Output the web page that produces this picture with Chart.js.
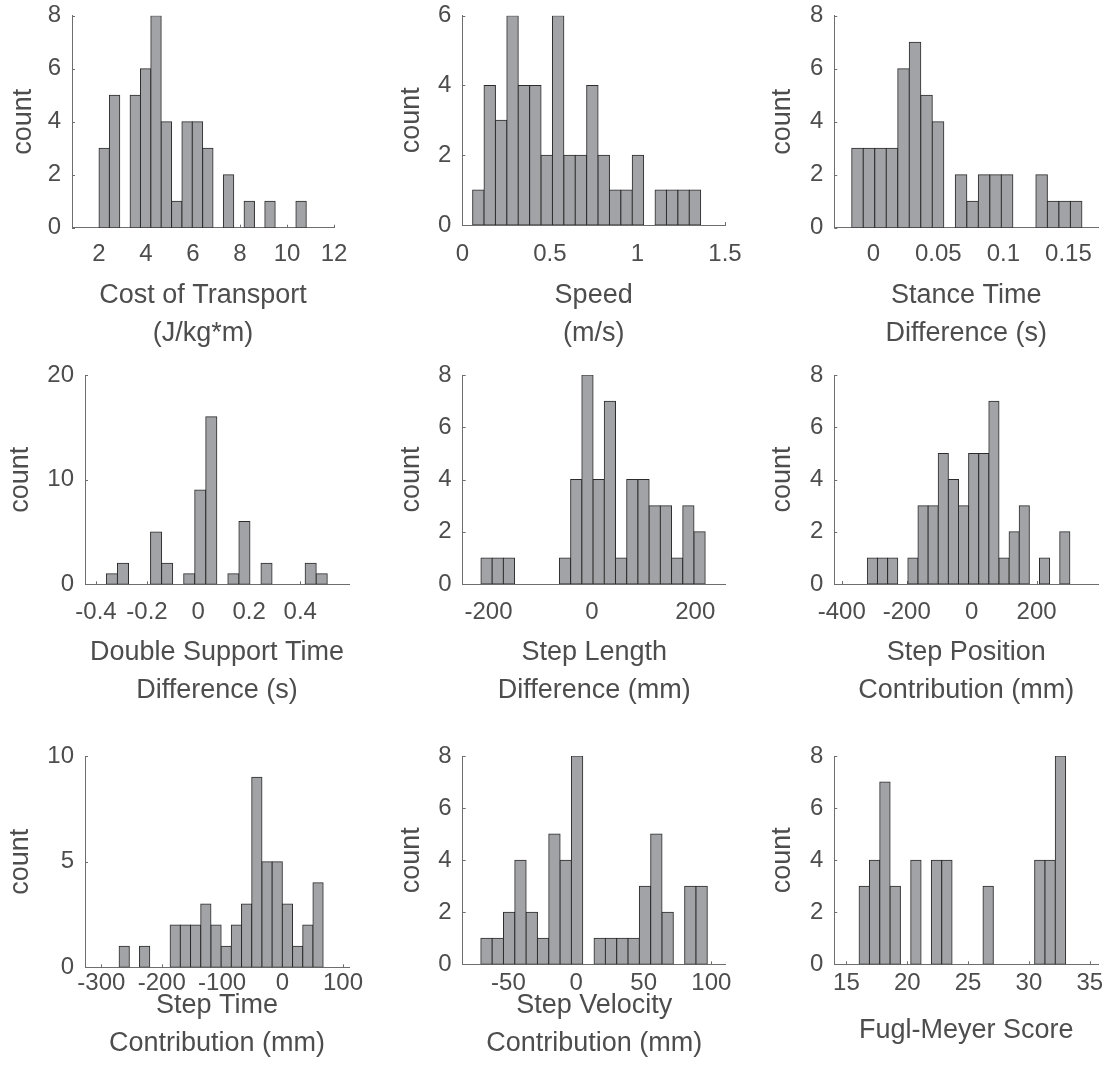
<!DOCTYPE html>
<html lang="en">
<head>
<meta charset="UTF-8">
<title>Gait histograms</title>
<script src="https://cdn.jsdelivr.net/npm/chart.js"></script>
<style>
  body { margin: 0; background: #fff; }
  #fig { position: relative; width: 1113px; height: 1088px; }
  #fig canvas { position: absolute; }
</style>
</head>
<body>
<div id="fig"></div>
<script>
// bin centres and counts (20 bins each, n = 48)
const costBins = [2.2205, 2.6615, 3.1025, 3.5435, 3.9845, 4.4255, 4.8665, 5.3075, 5.7485, 6.1895,
                  6.6305, 7.0715, 7.5125, 7.9535, 8.3945, 8.8355, 9.2765, 9.7175, 10.1585, 10.5995];
const costCounts = [3, 5, 0, 5, 6, 8, 4, 1, 4, 4, 3, 0, 2, 0, 1, 0, 1, 0, 0, 1];

const speedBins = [0.0916, 0.1567, 0.2218, 0.2869, 0.3520, 0.4171, 0.4822, 0.5473, 0.6124, 0.6775,
                   0.7426, 0.8077, 0.8728, 0.9379, 1.0030, 1.0681, 1.1332, 1.1983, 1.2634, 1.3285];
const speedCounts = [1, 4, 3, 6, 4, 4, 2, 6, 2, 2, 4, 2, 1, 1, 2, 0, 1, 1, 1, 1];

const stanceBins = [-0.012175, -0.003325, 0.005525, 0.014375, 0.023225, 0.032075, 0.040925, 0.049775, 0.058625, 0.067475,
                    0.076325, 0.085175, 0.094025, 0.102875, 0.111725, 0.120575, 0.129425, 0.138275, 0.147125, 0.155975];
const stanceCounts = [3, 3, 3, 3, 6, 7, 5, 4, 0, 2, 1, 2, 2, 2, 0, 0, 2, 1, 1, 1];

const dblBins = [-0.337575, -0.294325, -0.251075, -0.207825, -0.164575, -0.121325, -0.078075, -0.034825, 0.008425, 0.051675,
                 0.094925, 0.138175, 0.181425, 0.224675, 0.267925, 0.311175, 0.354425, 0.397675, 0.440925, 0.484175];
const dblCounts = [1, 2, 0, 0, 5, 2, 0, 1, 9, 16, 0, 1, 6, 0, 2, 0, 0, 0, 2, 1];

const lengthBins = [-203.85, -182.15, -160.45, -138.75, -117.05, -95.35, -73.65, -51.95, -30.25, -8.55,
                    13.15, 34.85, 56.55, 78.25, 99.95, 121.65, 143.35, 165.05, 186.75, 208.45];
const lengthCounts = [1, 1, 1, 0, 0, 0, 0, 1, 4, 8, 4, 7, 1, 4, 4, 3, 3, 1, 3, 2];

const positionBins = [-305.61, -274.43, -243.25, -212.07, -180.89, -149.71, -118.53, -87.35, -56.17, -24.99,
                      6.19, 37.37, 68.55, 99.73, 130.91, 162.09, 193.27, 224.45, 255.63, 286.81];
const positionCounts = [1, 1, 1, 0, 1, 3, 3, 5, 4, 3, 5, 5, 7, 1, 2, 3, 0, 1, 0, 2];

const timeBins = [-262.0575, -245.1725, -228.2875, -211.4025, -194.5175, -177.6325, -160.7475, -143.8625, -126.9775, -110.0925,
                  -93.2075, -76.3225, -59.4375, -42.5525, -25.6675, -8.7825, 8.1025, 24.9875, 41.8725, 58.7575];
const timeCounts = [1, 0, 1, 0, 0, 2, 2, 2, 3, 2, 1, 2, 3, 9, 5, 5, 3, 1, 2, 4];

const velocityBins = [-66.215, -57.845, -49.475, -41.105, -32.735, -24.365, -15.995, -7.625, 0.745, 9.115,
                      17.485, 25.855, 34.225, 42.595, 50.965, 59.335, 67.705, 76.075, 84.445, 92.815];
const velocityCounts = [1, 1, 2, 4, 2, 1, 5, 4, 8, 0, 1, 1, 1, 1, 3, 5, 2, 0, 3, 3];

const fmBins = [16.4643, 17.313, 18.1617, 19.0104, 19.8591, 20.7078, 21.5565, 22.4052, 23.2539, 24.1026,
                24.9513, 25.8, 26.6487, 27.4974, 28.3461, 29.1948, 30.0435, 30.8922, 31.7409, 32.5896];
const fmCounts = [3, 4, 7, 3, 0, 4, 0, 4, 4, 0, 0, 0, 3, 0, 0, 0, 0, 4, 4, 8];

// tick labels
const costTicks = [2, 4, 6, 8, 10, 12];
const speedTicks = [0, 0.5, 1, 1.5];
const stanceTicks = [0, 0.05, 0.1, 0.15];
const dblTicks = [-0.4, -0.2, 0, 0.2, 0.4];
const lengthTicks = [-200, 0, 200];
const positionTicks = [-400, -200, 0, 200];
const timeTicks = [-300, -200, -100, 0, 100];
const velocityTicks = [-50, 0, 50, 100];
const fmTicks = [15, 20, 25, 30, 35];
const count6 = [0, 2, 4, 6];
const count8 = [0, 2, 4, 6, 8];
const count10 = [0, 5, 10];
const count20 = [0, 10, 20];

// layout: canvas cell + plot box (page px)
const panels = [
  { left: 0,   top: 0, w: 371, h: 355, plot: { l: 72,    r: 334,    t: 15.7, b: 227.7 },
    bins: costBins, counts: costCounts, xMin: 0.85, xMax: 12, xTicks: costTicks, yMax: 8, yTicks: count8,
    xTitle: ['Cost of Transport', '(J/kg*m)'], tickPad: 12, titlePad: 3, yTitlePad: 7 },
  { left: 371, top: 0, w: 371, h: 355, plot: { l: 462.3, r: 725,    t: 15.7, b: 225 },
    bins: speedBins, counts: speedCounts, xMin: 0, xMax: 1.5, xTicks: speedTicks, yMax: 6, yTicks: count6,
    xTitle: ['Speed', '(m/s)'], tickPad: 14.6, titlePad: 3, yTitlePad: 24 },
  { left: 742, top: 0, w: 371, h: 355, plot: { l: 834.3, r: 1098.3, t: 15.7, b: 227.7 },
    bins: stanceBins, counts: stanceCounts, xMin: -0.03, xMax: 0.173, xTicks: stanceTicks, yMax: 8, yTicks: count8,
    xTitle: ['Stance Time', 'Difference (s)'], tickPad: 12, titlePad: 3, yTitlePad: 24.4 },

  { left: 0,   top: 355, w: 371, h: 360, plot: { l: 85,    r: 349,    t: 375, b: 584.3 },
    bins: dblBins, counts: dblCounts, xMin: -0.443, xMax: 0.591, xTicks: dblTicks, yMax: 20, yTicks: count20,
    xTitle: ['Double Support Time', 'Difference (s)'], tickPad: 14, titlePad: 6, yTitlePad: 4 },
  { left: 371, top: 355, w: 371, h: 360, plot: { l: 462.7, r: 725.7,  t: 375, b: 584 },
    bins: lengthBins, counts: lengthCounts, xMin: -250, xMax: 259, xTicks: lengthTicks, yMax: 8, yTicks: count8,
    xTitle: ['Step Length', 'Difference (mm)'], tickPad: 14, titlePad: 6, yTitlePad: 24 },
  { left: 742, top: 355, w: 371, h: 360, plot: { l: 834.3, r: 1098.3, t: 375, b: 584 },
    bins: positionBins, counts: positionCounts, xMin: -423, xMax: 390, xTicks: positionTicks, yMax: 8, yTicks: count8,
    xTitle: ['Step Position', 'Contribution (mm)'], tickPad: 14, titlePad: 6, yTitlePad: 24.4 },

  { left: 0,   top: 715, w: 371, h: 373, plot: { l: 85,    r: 349,    t: 756, b: 967.3 },
    bins: timeBins, counts: timeCounts, xMin: -327, xMax: 110, xTicks: timeTicks, yMax: 10, yTicks: count10,
    xTitle: ['Step Time', 'Contribution (mm)'], tickPad: 2, titlePad: 26, yTitlePad: 4 },
  { left: 371, top: 715, w: 371, h: 373, plot: { l: 462.7, r: 725.7,  t: 756, b: 964.3 },
    bins: velocityBins, counts: velocityCounts, xMin: -83.8, xMax: 110.6, xTicks: velocityTicks, yMax: 8, yTicks: count8,
    xTitle: ['Step Velocity', 'Contribution (mm)'], tickPad: 5, titlePad: 26, yTitlePad: 24 },
  { left: 742, top: 715, w: 371, h: 373, plot: { l: 834.3, r: 1098.3, t: 756, b: 964.3 },
    bins: fmBins, counts: fmCounts, xMin: 14, xMax: 35.7, xTicks: fmTicks, yMax: 8, yTicks: count8,
    xTitle: 'Fugl-Meyer Score', tickPad: 5, titlePad: 39, yTitlePad: 24.4 }
];

Chart.defaults.font.family = '"Liberation Sans", Arial, sans-serif';
Chart.defaults.color = '#4d4d4d';
const AXIS = '#6e6e6e';
const FACE = '#a2a3a6';
const EDGE = '#2b2b2b';

// matlab style ticks pointing into the axes
const inwardTicks = {
  id: 'inwardTicks',
  beforeDatasetsDraw(chart) {
    const { ctx, chartArea, scales: { x, y } } = chart;
    ctx.save();
    ctx.strokeStyle = AXIS;
    ctx.lineWidth = 1;
    ctx.beginPath();
    x.ticks.forEach(t => {
      const px = Math.round(x.getPixelForValue(t.value)) + 0.5;
      ctx.moveTo(px, chartArea.bottom);
      ctx.lineTo(px, chartArea.bottom - 3);
    });
    y.ticks.forEach(t => {
      const py = Math.round(y.getPixelForValue(t.value)) + 0.5;
      ctx.moveTo(chartArea.left, py);
      ctx.lineTo(chartArea.left + 3, py);
    });
    ctx.stroke();
    ctx.restore();
  }
};

const fig = document.getElementById('fig');

panels.forEach(p => {
  const cv = document.createElement('canvas');
  cv.width = p.w;
  cv.height = p.h;
  cv.style.left = p.left + 'px';
  cv.style.top = p.top + 'px';
  fig.appendChild(cv);

  new Chart(cv, {
    type: 'bar',
    data: {
      datasets: [{
        data: p.bins.map((b, i) => ({ x: b, y: p.counts[i] })),
        backgroundColor: FACE,
        borderColor: EDGE,
        borderWidth: 1,
        borderSkipped: false,
        inflateAmount: 0.5,
        barPercentage: 1,
        categoryPercentage: 1
      }]
    },
    options: {
      responsive: false,
      animation: false,
      layout: { padding: { top: p.plot.t - p.top, right: p.left + p.w - p.plot.r, bottom: 0, left: 0 } },
      plugins: { legend: { display: false }, tooltip: { enabled: false } },
      scales: {
        x: {
          type: 'linear',
          offset: false,
          min: p.xMin,
          max: p.xMax,
          afterBuildTicks: s => { s.ticks = p.xTicks.map(v => ({ value: v })); },
          afterFit: s => { s.height = p.top + p.h - p.plot.b; s.paddingLeft = 0; s.paddingRight = 0; },
          grid: { display: false, drawTicks: false },
          border: { display: true, color: AXIS, width: 1 },
          ticks: { autoSkip: false, maxRotation: 0, padding: p.tickPad, font: { size: 24, lineHeight: 1.2 },
                   callback: v => String(v) },
          title: { display: true, text: p.xTitle, font: { size: 27, lineHeight: 1.4 },
                   padding: { top: 0, bottom: p.titlePad } }
        },
        y: {
          min: 0,
          max: p.yMax,
          afterBuildTicks: s => { s.ticks = p.yTicks.map(v => ({ value: v })); },
          afterFit: s => { s.width = p.plot.l - p.left; s.paddingTop = 0; s.paddingBottom = 0; },
          grid: { display: false, drawTicks: false },
          border: { display: true, color: AXIS, width: 1 },
          ticks: { padding: 11, font: { size: 24, lineHeight: 1.2 }, callback: v => String(v) },
          title: { display: true, text: 'count', font: { size: 27, lineHeight: 1.2 },
                   padding: { top: p.yTitlePad, bottom: 0 } }
        }
      }
    },
    plugins: [inwardTicks]
  });
});
</script>
</body>
</html>
